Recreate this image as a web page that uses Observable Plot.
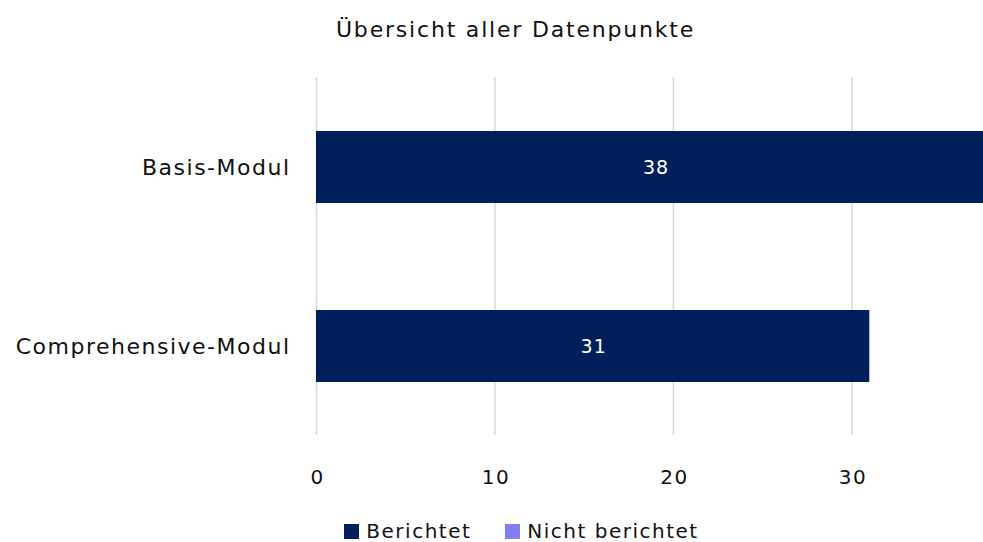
<!DOCTYPE html>
<html><head><meta charset="utf-8">
<script src="https://cdn.jsdelivr.net/npm/d3@7"></script>
<script src="https://cdn.jsdelivr.net/npm/@observablehq/plot@0.6"></script>
<style>
body{margin:0;background:#fff;font-family:"DejaVu Sans",sans-serif;color:#111;}
#wrap{width:983px;height:542px;position:relative;overflow:hidden;}
#title{height:60px;line-height:60px;font-size:22px;letter-spacing:1.8px;text-align:center;padding-left:48px;box-sizing:border-box;width:983px;}
#legend{display:flex;justify-content:center;align-items:center;gap:34px;font-size:20px;line-height:22px;letter-spacing:1.5px;height:42px;padding-left:60px;padding-top:20px;box-sizing:border-box;}
.sw{display:inline-block;width:15px;height:15px;margin-right:7px;vertical-align:-1px;}
svg{display:block;}
</style></head>
<body><div id="wrap">
<div id="title">Übersicht aller Datenpunkte</div>
<div id="chart"></div>
<div id="legend"></div>
</div>
<script>
const categories = ["Basis-Modul", "Comprehensive-Modul"];
const seriesNames = ["Berichtet", "Nicht berichtet"];
const berichtet = [38, 31];
const nichtBerichtet = [0, 0];
const colors = ["#001f5b", "#8080f0"];
const xTicks = [0, 10, 20, 30];

const rows = [];
categories.forEach((c, i) => {
  rows.push({category: c, series: seriesNames[0], value: berichtet[i]});
  rows.push({category: c, series: seriesNames[1], value: nichtBerichtet[i]});
});

const plot = Plot.plot({
  width: 983,
  height: 440,
  marginLeft: 316,
  marginRight: 0,
  marginTop: 17,
  marginBottom: 65,
  style: {fontFamily: "'DejaVu Sans', sans-serif", fontSize: "20px", color: "#111"},
  x: {domain: [0, 37.37], label: null},
  y: {domain: categories, paddingInner: 0.6, paddingOuter: 0.3, label: null},
  color: {domain: seriesNames, range: colors},
  marks: [
    Plot.ruleX(xTicks, {stroke: "#d9d9d9", strokeWidth: 1.5}),
    Plot.barX(rows, Plot.stackX({x: "value", y: "category", fill: "series", z: "series", clip: true})),
    Plot.text(rows, Plot.stackX({x: "value", y: "category", z: "series", text: d => d.value > 0 ? String(d.value) : "", fill: "white", fontSize: 19, dx: 0.5})),
    Plot.axisX({ticks: xTicks, tickSize: 0, tickPadding: 34, fontSize: 20, label: null, tickFormat: d => d, dx: 1}),
    Plot.axisY({tickSize: 0, tickPadding: 26, fontSize: 22, label: null})
  ]
});
plot.querySelectorAll('g[aria-label="x-axis tick label"] text').forEach(t => t.style.letterSpacing = "1.5px");
plot.querySelectorAll('g[aria-label="y-axis tick label"] text').forEach(t => t.style.letterSpacing = "1.5px");
plot.querySelectorAll('g[aria-label="text"] text').forEach(t => t.style.letterSpacing = "1px");
document.getElementById("chart").appendChild(plot);

const legend = document.getElementById("legend");
seriesNames.forEach((s, i) => {
  const item = document.createElement("span");
  item.innerHTML = `<span class="sw" style="background:${colors[i]}"></span>${s}`;
  legend.appendChild(item);
});
</script>
</body></html>
